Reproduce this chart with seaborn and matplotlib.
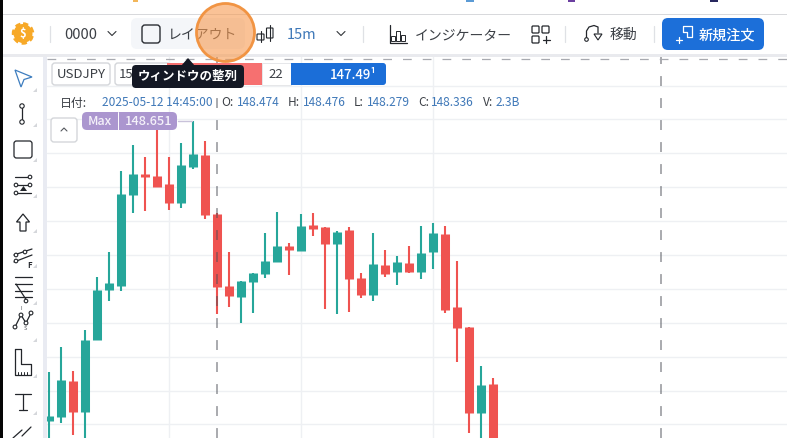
# ================= Imports =================
from matplotlib import pyplot as plt
from matplotlib.patches import Circle, FancyBboxPatch, Polygon, Rectangle
import pandas as pd
import seaborn as sns

# ================= Data =================
open_ = [148.081, 148.089, 148.157, 148.098, 148.235, 148.330, 148.337, 148.510, 148.550, 148.546,
         148.531, 148.495, 148.563, 148.586, 148.474, 148.337, 148.317, 148.345, 148.360, 148.383,
         148.413, 148.404, 148.453, 148.449, 148.417, 148.444, 148.353, 148.320, 148.377, 148.364,
         148.381, 148.364, 148.402, 148.436, 148.298, 148.260, 148.096, 148.151]
high = [148.174, 148.222, 148.176, 148.254, 148.354, 148.402, 148.556, 148.605, 148.582, 148.637,
        148.582, 148.609, 148.651, 148.613, 148.476, 148.402, 148.347, 148.362, 148.438, 148.478,
        148.419, 148.474, 148.476, 148.449, 148.442, 148.449, 148.362, 148.438, 148.406, 148.394,
        148.413, 148.451, 148.457, 148.451, 148.385, 148.260, 148.186, 148.163]
low = [148.034, 148.077, 148.055, 148.036, 148.235, 148.309, 148.328, 148.476, 148.480, 148.525,
       148.482, 148.485, 148.559, 148.465, 148.284, 148.298, 148.267, 148.286, 148.353, 148.383,
       148.358, 148.404, 148.432, 148.294, 148.284, 148.288, 148.315, 148.309, 148.354, 148.339,
       148.362, 148.351, 148.370, 148.286, 148.193, 148.058, 148.036, 148.020]
close = [148.091, 148.159, 148.098, 148.235, 148.330, 148.343, 148.512, 148.550, 148.544, 148.525,
         148.495, 148.567, 148.588, 148.472, 148.336, 148.318, 148.347, 148.362, 148.385, 148.413,
         148.406, 148.451, 148.446, 148.417, 148.440, 148.351, 148.320, 148.379, 148.360, 148.383,
         148.364, 148.400, 148.438, 148.292, 148.258, 148.096, 148.150, 148.036]
grid_prices = [148.718, 148.654, 148.589, 148.525, 148.460, 148.396, 148.331, 148.267, 148.203, 148.139, 148.076]
grid_bars = [10, 21, 32]
cross_bars = [14, 51]

UP = "#26a69a"
DOWN = "#ef5350"
INK = "#3c4046"
BLUE = "#3f78b8"
JP = ["Noto Sans CJK JP", "DejaVu Sans"]

sns.set_theme(style="white")
plt.rcParams["font.family"] = JP

# ================= Tables =================
candles = pd.DataFrame({"bar": range(len(open_)), "open": open_, "high": high, "low": low, "close": close})
candles["side"] = ["up" if c >= o else "down" for o, c in zip(open_, close)]
wicks = candles.melt(id_vars=["bar", "side"], value_vars=["high", "low"], value_name="price")
bodies = candles.melt(id_vars=["bar", "side"], value_vars=["open", "close"], value_name="price")
palette = {"up": UP, "down": DOWN}

# ================= Figure =================
fig = plt.figure(figsize=(7.87, 4.38), dpi=100, facecolor="white")
ax = fig.add_axes([47 / 787, 0, 740 / 787, 382 / 438], zorder=1)
ui = fig.add_axes([0, 0, 1, 1], zorder=2)
ui.set_xlim(0, 787)
ui.set_ylim(438, 0)
ui.axis("off")
ui.patch.set_alpha(0)

# ================= Chart =================
for price in grid_prices:
    ax.axhline(price, color="#eef0f3", lw=1, zorder=0)
for bar in grid_bars:
    ax.axvline(bar, color="#eef0f3", lw=1, zorder=0)

sns.lineplot(data=wicks, x="bar", y="price", units="bar", estimator=None, hue="side", palette=palette,
             lw=1.5, solid_capstyle="butt", legend=False, ax=ax, zorder=2)
sns.lineplot(data=bodies, x="bar", y="price", units="bar", estimator=None, hue="side", palette=palette,
             lw=6.5, solid_capstyle="butt", legend=False, ax=ax, zorder=3)

for bar in cross_bars:
    ax.axvline(bar, color="#4a4d55", alpha=0.6, lw=1.1, ls=(0, (6.5, 7.9)), zorder=4)

ax.set_xlim(-1 / 6, 61.5)
ax.set_ylim(148.049, 148.774)
ax.set_xlabel("")
ax.set_ylabel("")
ax.set_xticks([])
ax.set_yticks([])
sns.despine(ax=ax, left=True, bottom=True)


# ================= Helpers =================
def label(x, y, s, size=9.5, color=INK, ha="left", **kw):
    ui.text(x, y, s, fontsize=size, color=color, ha=ha, va="center", family=JP, **kw)


def box(x0, y0, x1, y1, face="white", edge="none", r=3, lw=1, z=3):
    ui.add_patch(FancyBboxPatch((x0 + r, y0 + r), x1 - x0 - 2 * r, y1 - y0 - 2 * r,
                                boxstyle=f"round,pad={r},rounding_size={r}",
                                fc=face, ec=edge, lw=lw, zorder=z))


def stroke(xs, ys, color="#23262b", lw=0.9, z=4, **kw):
    ui.plot(xs, ys, color=color, lw=lw, zorder=z, solid_capstyle="round", **kw)


def node(x, y, r=2.2, color="#23262b"):
    ui.add_patch(Circle((x, y), r, fc="white", ec=color, lw=0.8, zorder=5))


def chevron(x, y, color="#33363b"):
    stroke([x - 4, x, x + 4], [y - 2, y + 2, y - 2], color=color, lw=0.8)


# ================= Frame =================
ui.add_patch(Rectangle((0, 0), 787, 56, fc="white", ec="none", zorder=1))
ui.add_patch(Rectangle((3, 14), 784, 1, fc="#d8d9dc", ec="none", zorder=2))
ui.add_patch(Rectangle((3, 54), 784, 3, fc="#e9eaee", ec="none", zorder=2))
ui.add_patch(Rectangle((3, 56), 40, 382, fc="white", ec="none", zorder=1))
ui.add_patch(Rectangle((43, 57), 4, 381, fc="#e9ebf2", ec="none", zorder=2))
ui.add_patch(Rectangle((0, 0), 3, 438, fc="#050505", ec="none", zorder=6))
stroke([47, 787], [58.5, 58.5], color="#a8aab0", lw=0.9, ls=(0, (7, 8.8)), z=2)
for x, c, w in [(133, "#f2b65a", 5), (466, "#5b9bd5", 8), (568, "#6b3fa0", 7), (710, "#27285e", 8)]:
    ui.add_patch(Rectangle((x, 0), w, 1.5, fc=c, ec="none", zorder=2))

# ================= Toolbar =================
ui.add_patch(Circle((23, 33.5), 9.5, fc="#f7a928", ec="#f7a928", ls=(0, (1.5, 1)), lw=2.5, zorder=3))
ui.text(23, 33.5, "$", color="white", fontsize=8, ha="center", va="center", fontweight="bold", zorder=5, family=JP)
for x in [49.5, 362.5, 564.5, 653.5]:
    stroke([x, x], [26, 42], color="#dfe1e5", lw=0.9)
label(64, 35, "0000", size=10.5)
chevron(112, 33.5)
box(131, 18, 245, 49, face="#f4f6f9", r=6)
box(142, 25, 160, 43, face="none", edge="#2a2d33", r=3, lw=1)
label(168, 35, "レイアウト", size=10)
stroke([261, 261], [31, 42], lw=0.8)
box(257, 34, 264, 40, face="white", edge="#23262b", r=0.5, lw=0.8)
stroke([270, 270], [25, 41], lw=0.8)
box(266.5, 28, 273, 38, face="white", edge="#23262b", r=0.5, lw=0.8)
label(287, 35, "15m", size=10.5, color=BLUE)
chevron(341, 33.5)
stroke([390, 390, 407], [25, 42.5, 42.5], lw=0.9)
for x, t in [(393, 36), (398, 31), (403, 35)]:
    ui.add_patch(Rectangle((x - 2, t), 4, 41 - t, fc="white", ec="#23262b", lw=0.7, zorder=4))
label(415, 35, "インジケーター", size=10)
for x, y in [(532, 26), (542, 26), (532, 36)]:
    box(x, y, x + 7, y + 7, face="none", edge="#23262b", r=1, lw=0.9)
stroke([546, 546], [36, 43], lw=0.9)
stroke([542.5, 549.5], [39.5, 39.5], lw=0.9)
stroke([586.5, 586.5, 589, 594, 598, 598], [38, 31, 27, 25.5, 27, 33], lw=0.9)
node(586.5, 39.5, 1.8)
ui.add_patch(Polygon([(594, 34), (602, 34), (598, 40)], closed=True, fc="white", ec="#23262b", lw=0.8, zorder=5))
label(609.5, 35, "移動", size=10)
box(662, 18, 764, 50, face="#1c6fd9", r=6)
stroke([683, 683, 692, 692, 687, 687, 683], [32, 26, 26, 37, 37, 32, 32], color="white", lw=0.9)
stroke([676, 682], [39.5, 39.5], color="white", lw=0.9)
stroke([679, 679], [36.5, 42.5], color="white", lw=0.9)
label(699, 35, "新規注文", size=10.2, color="white", fontweight="medium", zorder=5)

# ================= Legend row =================
box(52, 63, 110, 85, edge="#d4d6da", r=3)
label(57, 75, "USDJPY", size=9.5, zorder=5)
box(115, 63, 170, 85, edge="#d4d6da", r=3)
label(119, 75, "15", size=9.5, zorder=5)
ui.add_patch(Rectangle((167, 63), 95, 22, fc="#f67070", ec="none", zorder=3))
ui.add_patch(Rectangle((262, 63), 29, 22, fc="white", ec="#e2e3e6", lw=0.6, zorder=3))
label(276, 75, "22", size=9.5, ha="center", zorder=5)
box(291, 63, 386, 85, face="#1b6ed8", r=3)
ui.add_patch(Rectangle((291, 63), 6, 22, fc="#1b6ed8", ec="none", zorder=3))
label(377, 75, "147.49¹", size=9.5, color="white", ha="right", fontweight="medium", zorder=5)

box(132, 65, 244, 88, face="#141824", r=4, z=7)
ui.add_patch(Polygon([(181, 66), (188, 58), (195, 66)], closed=True, fc="#141824", ec="none", zorder=7))
label(188, 76.5, "ウィンドウの整列", size=9, color="white", ha="center", fontweight="bold", zorder=8)

row = [(60, "日付:", INK), (102, "2025-05-12 14:45:00", BLUE), (221, "O:", INK), (237, "148.474", BLUE),
       (288, "H:", INK), (303, "148.476", BLUE), (354, "L:", INK), (367, "148.279", BLUE),
       (418, "C:", INK), (431, "148.336", BLUE), (483, "V:", INK), (496, "2.3B", BLUE)]
for x, s, c in row:
    label(x, 103, s, size=8.6, color=c, zorder=5)

box(51, 118, 77, 142, edge="#d4d6da", r=3)
stroke([61, 64, 67], [131, 128, 131], color="#55585e", lw=0.8)
box(82, 112, 177, 130, face="#ab96cf", r=5)
stroke([117.5, 117.5], [112, 130], color="white", lw=0.7)
label(88, 121.5, "Max", size=9, color="#f5f2fa", fontweight="medium", zorder=5)
label(125, 121.5, "148.651", size=9.2, color="#f5f2fa", fontweight="medium", zorder=5)
stroke([178, 192], [121, 121], color="#c9c2da", lw=1, z=2)

# ================= Sidebar =================
ui.add_patch(Polygon([(15, 70), (32, 77), (24, 79.5), (21, 87)], closed=True, fc="white", ec="#3d7dbf", lw=0.9, zorder=4))
stroke([22, 22], [106, 122])
node(22, 106)
node(22, 122)
box(14, 141, 32, 158, face="none", edge="#23262b", r=2.5, lw=0.9)
for y, x0, x1 in [(177, 15, 30), (185, 15, 30), (193, 15, 31)]:
    stroke([x0, x1], [y, y])
for x, y in [(30, 177), (30, 185), (16, 185), (16, 193)]:
    node(x, y, 1.8)
ui.add_patch(Polygon([(20, 191), (23.5, 186), (27, 191)], closed=True, fc="#23262b", ec="none", zorder=5))
ui.add_patch(Polygon([(23, 214), (29.5, 222), (26, 222), (26, 231), (20, 231), (20, 222), (16.5, 222)],
                     closed=True, fc="white", ec="#23262b", lw=0.9, zorder=4))
stroke([14, 32], [255, 249])
stroke([14, 32], [262, 255])
for x, y in [(16, 255), (25, 252), (16, 261)]:
    node(x, y, 1.8)
label(29, 265, "F", size=5.5, color="#23262b", ha="center", fontweight="bold", zorder=5)
for y in [277, 284, 291, 297]:
    stroke([15, 32], [y, y])
stroke([16, 27], [284, 301])
node(26, 301, 1.8)
stroke([15, 21, 26, 31], [327, 315, 323, 313])
for x, y in [(15, 327), (21, 315), (26, 323), (31, 313)]:
    node(x, y, 1.9)
label(21, 309, "I", size=4, color="#55585e", ha="center", zorder=5)
label(25, 329, "S", size=4, color="#55585e", ha="center", zorder=5)
stroke([15, 21, 21, 31, 31, 15, 15], [349, 349, 364, 364, 375, 375, 349])
for x in [18, 21, 24, 27]:
    stroke([x, x], [372, 375], lw=0.7)
stroke([15, 31], [393.5, 393.5])
stroke([23, 23], [393.5, 410])
stroke([19, 27], [410, 410])
stroke([13, 22], [438, 430])
stroke([22, 31], [436, 427])
for y in [92, 127, 162, 198, 233, 268, 305, 342, 378, 415]:
    ui.add_patch(Polygon([(33, y), (37, y), (37, y - 4)], closed=True, fc="#d5d7db", ec="none", zorder=4))

# ================= Highlight =================
ui.add_patch(Circle((225.5, 32.5), 29, fc="#f79a50", ec="none", alpha=0.6, zorder=9))
ui.add_patch(Circle((225.5, 32.5), 29, fc="none", ec="#f19443", lw=2, zorder=10))

fig.savefig("out.png", dpi=100)
